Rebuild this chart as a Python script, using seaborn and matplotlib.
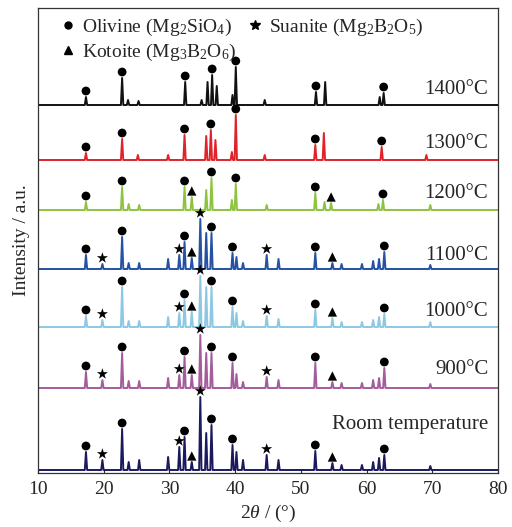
import matplotlib
matplotlib.use("Agg")
import matplotlib.pyplot as plt
from matplotlib.lines import Line2D
import seaborn as sns
import pandas as pd
import numpy as np

# curves, bottom to top
curves = ["Room temperature", "900°C", "1000°C", "1100°C", "1200°C", "1300°C", "1400°C"]
offsets = [3, 85, 146, 204, 263, 313, 368]
label_y = [49, 103, 161, 218, 279, 330, 384]
colors = ["#1b1a5e", "#a45c9c", "#8cc8e4", "#2552a2", "#8dc43f", "#e0222b", "#111111"]

# peak positions (2theta) and heights
pos_low = [17.3, 19.8, 22.8, 23.8, 25.4, 29.8, 31.5, 32.3, 33.4, 34.7, 35.6, 36.4,
           39.6, 40.2, 41.2, 44.8, 46.6, 52.2, 54.8, 56.2, 59.3, 61.0, 61.9, 62.7, 69.7]
h_rt   = [18, 10, 41, 8, 10, 13, 23, 33, 8, 73, 37, 45, 25, 18, 10, 15, 10, 19, 7, 5, 5, 8, 12, 15, 4]
h_900  = [16, 8, 35, 7, 7, 10, 13, 31, 13, 53, 35, 35, 25, 14, 6, 11, 8, 25, 6, 5, 5, 8, 10, 20, 4]
h_1000 = [11, 7, 40, 6, 6, 10, 14, 27, 15, 51, 40, 40, 20, 14, 6, 11, 8, 17, 9, 5, 5, 7, 10, 13, 5]
h_1100 = [14, 5, 32, 6, 6, 10, 14, 27, 11, 50, 36, 36, 16, 12, 6, 14, 10, 16, 6, 5, 5, 8, 10, 17, 4]

pos_1200 = [17.3, 22.8, 23.8, 25.4, 32.3, 33.4, 35.6, 36.4, 39.5, 40.1, 44.8, 52.2, 53.6, 54.6, 61.8, 62.5, 69.7]
h_1200   = [8, 23, 6, 5, 23, 13, 20, 32, 10, 26, 5, 17, 8, 7, 6, 10, 5]

pos_1300 = [17.3, 22.8, 25.2, 29.8, 32.3, 35.6, 36.3, 37.0, 39.5, 40.1, 44.5, 52.2, 53.5, 62.3, 69.1]
h_1300   = [7, 21, 5, 5, 25, 24, 30, 20, 8, 45, 5, 15, 27, 13, 5]

pos_1400 = [17.3, 22.8, 23.7, 25.3, 32.4, 34.9, 35.8, 36.5, 37.2, 39.6, 40.1, 44.5, 52.3, 53.7, 62.0, 62.6]
h_1400   = [8, 27, 5, 4, 23, 5, 23, 30, 19, 10, 38, 5, 13, 23, 8, 12]

peak_pos = [pos_low, pos_low, pos_low, pos_low, pos_1200, pos_1300, pos_1400]
peak_h = [h_rt, h_900, h_1000, h_1100, h_1200, h_1300, h_1400]

# phase markers per curve
olivine_low = [17.3, 22.8, 32.3, 36.4, 39.6, 52.2, 62.7]
suanite_low = [19.8, 31.5, 34.7, 44.8]
kotoite_low = [33.4, 54.8]
olivine = [olivine_low] * 4 + [[17.3, 22.8, 32.3, 36.4, 40.1, 52.2, 62.5],
                               [17.3, 22.8, 32.3, 36.3, 40.1, 52.2, 62.3],
                               [17.3, 22.8, 32.4, 36.5, 40.1, 52.3, 62.6]]
suanite = [suanite_low] * 4 + [[], [], []]
kotoite = [kotoite_low] * 4 + [[33.4, 54.6], [], []]

sns.set_style("ticks")
plt.rcParams["font.family"] = ["Liberation Serif", "DejaVu Serif"]
plt.rcParams["mathtext.fontset"] = "custom"
plt.rcParams["mathtext.rm"] = "Liberation Serif"
plt.rcParams["mathtext.it"] = "Liberation Serif:italic"
plt.rcParams["mathtext.default"] = "regular"

# build line vertices from the peak table
w = 0.18
rows = []
mk_rows = []
for name, off, pp, hh, ol, su, ko in zip(curves, offsets, peak_pos, peak_h, olivine, suanite, kotoite):
    rows.append((name, 10.0, off))
    for p, h in zip(pp, hh):
        rows += [(name, p - w, off), (name, p, off + h), (name, p + w, off)]
    rows.append((name, 80.0, off))
    lookup = dict(zip(pp, hh))
    for phase, lst in (("Olivine", ol), ("Suanite", su), ("Kotoite", ko)):
        for p in lst:
            h = lookup.get(p, 0)
            mk_rows.append((name, phase, p, off + h + 6))
df = pd.DataFrame(rows, columns=["curve", "x", "y"])
mk = pd.DataFrame(mk_rows, columns=["curve", "phase", "x", "y"])

fig = plt.figure(figsize=(5.12, 5.27), dpi=100)
ax = fig.add_axes([38/512, 1 - 473/527, 460/512, 465/527])

sns.lineplot(data=df, x="x", y="y", hue="curve", hue_order=curves,
             palette=dict(zip(curves, colors)), estimator=None, linewidth=1.4,
             legend=False, ax=ax)

sizes = {"Olivine": 40, "Suanite": 70, "Kotoite": 45}
shapes = {"Olivine": "o", "Suanite": "*", "Kotoite": "^"}
for phase in ["Olivine", "Suanite", "Kotoite"]:
    sub = mk[mk["phase"] == phase]
    sns.scatterplot(data=sub, x="x", y="y", marker=shapes[phase], s=sizes[phase],
                    color="black", edgecolor="none", legend=False, ax=ax, zorder=5)

for name, ly in zip(curves, label_y):
    ax.text(78.5, ly, name, ha="right", va="center", fontsize=15)

handles = [
    Line2D([], [], ls="none", marker="o", ms=5, color="black", label="Olivine (Mg$_2$SiO$_4$)"),
    Line2D([], [], ls="none", marker="^", ms=6, color="black", label="Kotoite (Mg$_3$B$_2$O$_6$)"),
    Line2D([], [], ls="none", marker="*", ms=7, color="black", label="Suanite (Mg$_2$B$_2$O$_5$)"),
]
ax.legend(handles=handles, ncol=2, loc="upper left", bbox_to_anchor=(0.040, 0.990),
          frameon=False, fontsize=14, handletextpad=0.3, columnspacing=0.6,
          handlelength=0.8, labelspacing=0.2, borderaxespad=0, borderpad=0.2)

ax.set_xlim(10, 80)
ax.set_ylim(0, 465)
ax.set_xticks([10, 20, 30, 40, 50, 60, 70, 80])
ax.set_yticks([])
ax.tick_params(axis="x", direction="in", length=3, labelsize=14, pad=6)
ax.set_xlabel("2$\\mathit{\\theta}$ / (°)", fontsize=14, labelpad=3)
ax.set_ylabel("Intensity / a.u.", fontsize=14, labelpad=6)
for s in ax.spines.values():
    s.set_linewidth(0.9)
    s.set_color("#333333")

fig.savefig("out.png", dpi=100)
